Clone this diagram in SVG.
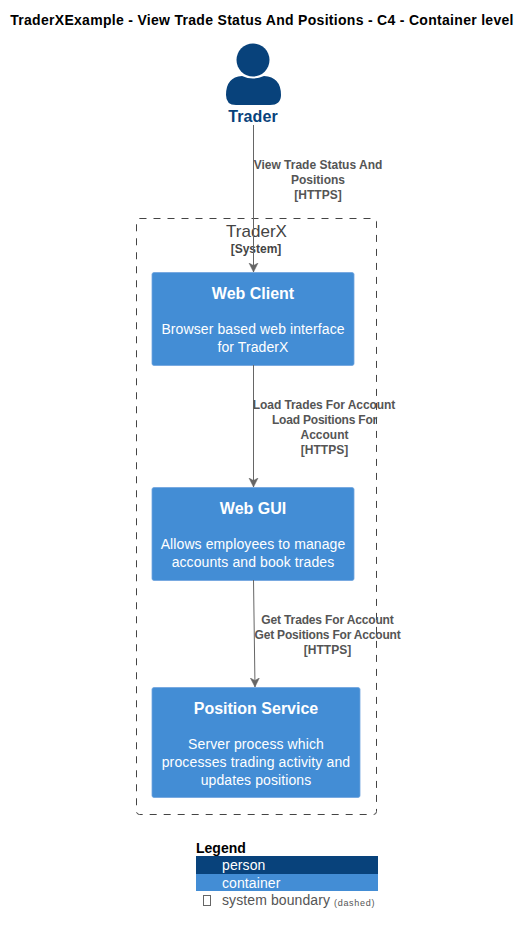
<svg xmlns="http://www.w3.org/2000/svg" width="531" height="934" viewBox="0 0 531 934">
<style>
text{font-family:"Liberation Sans",sans-serif}
.box{fill:#438DD5;stroke:#6FA3DE;stroke-width:.8}
.t{font-size:16px;font-weight:700;fill:#fff;text-anchor:middle}
.d{font-size:14px;fill:#fff;text-anchor:middle;letter-spacing:.1px}
.l{font-size:12px;font-weight:700;fill:#555;text-anchor:middle}
.c{fill:none;stroke:#666;stroke-width:1}
.lg{font-size:14px;fill:#fff;letter-spacing:.1px}
</style>
<defs><marker id="a" markerUnits="userSpaceOnUse" markerWidth="10" markerHeight="11" refX="9" refY="5" orient="auto"><path d="M0 0.500L9 5L0 9.500L2.500 5Z" fill="#666" stroke="#666" stroke-width=".5"/></marker></defs>
<rect width="531" height="934" fill="#fff"/>
<text x="262" y="25" text-anchor="middle" style="font-size:14px;font-weight:700;letter-spacing:.3px">TraderXExample - View Trade Status And Positions - C4 - Container level</text>
<g id="boundary">
<rect x="136.500" y="218.500" width="240" height="596" rx="3" fill="none" stroke="#444" stroke-dasharray="7 7"/>
<text x="256.500" y="237" text-anchor="middle" style="font-size:17px" fill="#444">TraderX</text>
<text x="256" y="253" text-anchor="middle" style="font-size:12px;font-weight:700" fill="#444">[System]</text>
</g>
<g id="trader">
<circle cx="253" cy="60" r="16.500" fill="#08427B"/>
<path d="M226 95Q226 77 242 76Q253 81 264 76Q281 77 281 95Q281 105 270 105H236Q226 105 226 95Z" fill="#08427B"/>
<text x="253" y="122" text-anchor="middle" style="font-size:16px;font-weight:700;letter-spacing:.1px" fill="#08427B">Trader</text>
</g>
<g id="web-client">
<rect class="box" x="152" y="272.500" width="202" height="93" rx="2"/>
<text class="t" x="253" y="299">Web Client</text>
<text class="d" x="253" y="334">Browser based web interface</text>
<text class="d" x="253" y="352">for TraderX</text>
</g>
<g id="web-gui">
<rect class="box" x="152" y="487.500" width="202" height="93" rx="2"/>
<text class="t" x="253" y="514">Web GUI</text>
<text class="d" x="253" y="549">Allows employees to manage</text>
<text class="d" x="253" y="567">accounts and book trades</text>
</g>
<g id="position-service">
<rect class="box" x="152" y="687.500" width="208" height="110" rx="2"/>
<text class="t" x="256" y="714">Position Service</text>
<text class="d" x="256" y="749">Server process which</text>
<text class="d" x="256" y="767" style="letter-spacing:.14px">processes trading activity and</text>
<text class="d" x="256" y="785">updates positions</text>
</g>
<g id="connectors">
<path class="c" d="M253.500 125V272" marker-end="url(#a)"/>
<path class="c" d="M253.500 365V487" marker-end="url(#a)"/>
<path class="c" d="M253.500 580L255 687" marker-end="url(#a)"/>
</g>
<g id="labels">
<text class="l" x="318" y="169">View Trade Status And</text>
<text class="l" x="318" y="184">Positions</text>
<text class="l" x="318" y="199">[HTTPS]</text>
<text class="l" x="324" y="409" style="letter-spacing:-.08px">Load Trades For Account</text>
<text class="l" x="324.500" y="424" style="letter-spacing:-.2px">Load Positions For</text>
<text class="l" x="324.500" y="439">Account</text>
<text class="l" x="324.500" y="454">[HTTPS]</text>
<text class="l" x="327.500" y="624" style="letter-spacing:-.15px">Get Trades For Account</text>
<text class="l" x="327.500" y="639" style="letter-spacing:-.2px">Get Positions For Account</text>
<text class="l" x="327.500" y="654">[HTTPS]</text>
</g>
<g id="legend">
<text x="196" y="853" style="font-size:14px;font-weight:700">Legend</text>
<rect x="196" y="856" width="182" height="18" fill="#08427B"/>
<rect x="196" y="874" width="182" height="17" fill="#438DD5"/>
<rect x="203.500" y="895.500" width="7" height="10" fill="none" stroke="#666"/>
<text class="lg" x="222" y="870">person</text>
<text class="lg" x="222" y="888">container</text>
<text class="lg" x="222" y="905" style="fill:#555">system boundary</text>
<text x="334" y="906" style="font-size:9px;letter-spacing:.7px" fill="#555">(dashed)</text>
</g>
</svg>
